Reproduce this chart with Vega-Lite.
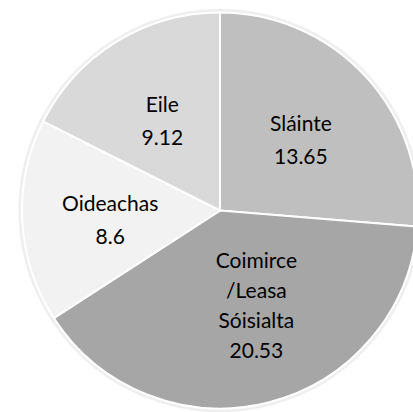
{
  "$schema": "https://vega.github.io/schema/vega-lite/v6.json",
  "autosize": {"type": "fit", "contains": "padding"},
  "width": 413,
  "height": 412,
  "padding": {"left": 27, "top": 9, "right": 0, "bottom": 0},
  "background": "white",
  "view": {"stroke": null},
  "data": {
    "values": [
      {"category": "Sláinte", "value": 13.65, "order": 1, "lines": 2, "label": ["Sláinte", "13.65"]},
      {"category": "Coimirce /Leasa Sóisialta", "value": 20.53, "order": 2, "lines": 4, "label": ["Coimirce", "/Leasa", "Sóisialta", "20.53"]},
      {"category": "Oideachas", "value": 8.6, "order": 3, "lines": 2, "label": ["Oideachas", "8.6"]},
      {"category": "Eile", "value": 9.12, "order": 4, "lines": 2, "label": ["Eile", "9.12"]}
    ]
  },
  "transform": [
    {"stack": "value", "groupby": [], "sort": [{"field": "order", "order": "ascending"}], "as": ["v0", "v1"]},
    {"calculate": "(datum.v0 + datum.v1) / 2", "as": "vmid"}
  ],
  "layer": [
    {
      "mark": {"type": "arc", "outerRadius": 200, "stroke": "#e6e6e6", "strokeWidth": 3, "opacity": 0.6},
      "encoding": {
        "theta": {"field": "v0", "type": "quantitative", "scale": {"domain": [0, 51.9], "range": [0, 6.283185307]}},
        "theta2": {"field": "v1"},
        "color": {"value": "#ededed"}
      }
    },
    {
      "mark": {"type": "arc", "outerRadius": 198, "stroke": "white", "strokeWidth": 2},
      "encoding": {
        "theta": {"field": "v0", "type": "quantitative", "scale": {"domain": [0, 51.9], "range": [0, 6.283185307]}},
        "theta2": {"field": "v1"},
        "color": {
          "field": "category",
          "type": "nominal",
          "scale": {
            "domain": ["Sláinte", "Coimirce /Leasa Sóisialta", "Oideachas", "Eile"],
            "range": ["#bfbfbf", "#a6a6a6", "#f2f2f2", "#d9d9d9"]
          },
          "legend": null
        }
      }
    },
    {
      "transform": [{"filter": "datum.lines == 2"}],
      "mark": {"type": "text", "radius": 110, "font": "Lato", "fontSize": 21, "lineHeight": 33, "dy": -11, "color": "black", "baseline": "middle", "align": "center"},
      "encoding": {
        "theta": {"field": "vmid", "type": "quantitative", "scale": {"domain": [0, 51.9], "range": [0, 6.283185307]}},
        "text": {"field": "label", "type": "nominal"}
      }
    },
    {
      "transform": [{"filter": "datum.lines == 4"}],
      "mark": {"type": "text", "radius": 100, "font": "Lato", "fontSize": 21, "lineHeight": 30, "dy": -45, "dx": 12, "color": "black", "baseline": "middle", "align": "center"},
      "encoding": {
        "theta": {"field": "vmid", "type": "quantitative", "scale": {"domain": [0, 51.9], "range": [0, 6.283185307]}},
        "text": {"field": "label", "type": "nominal"}
      }
    }
  ]
}
